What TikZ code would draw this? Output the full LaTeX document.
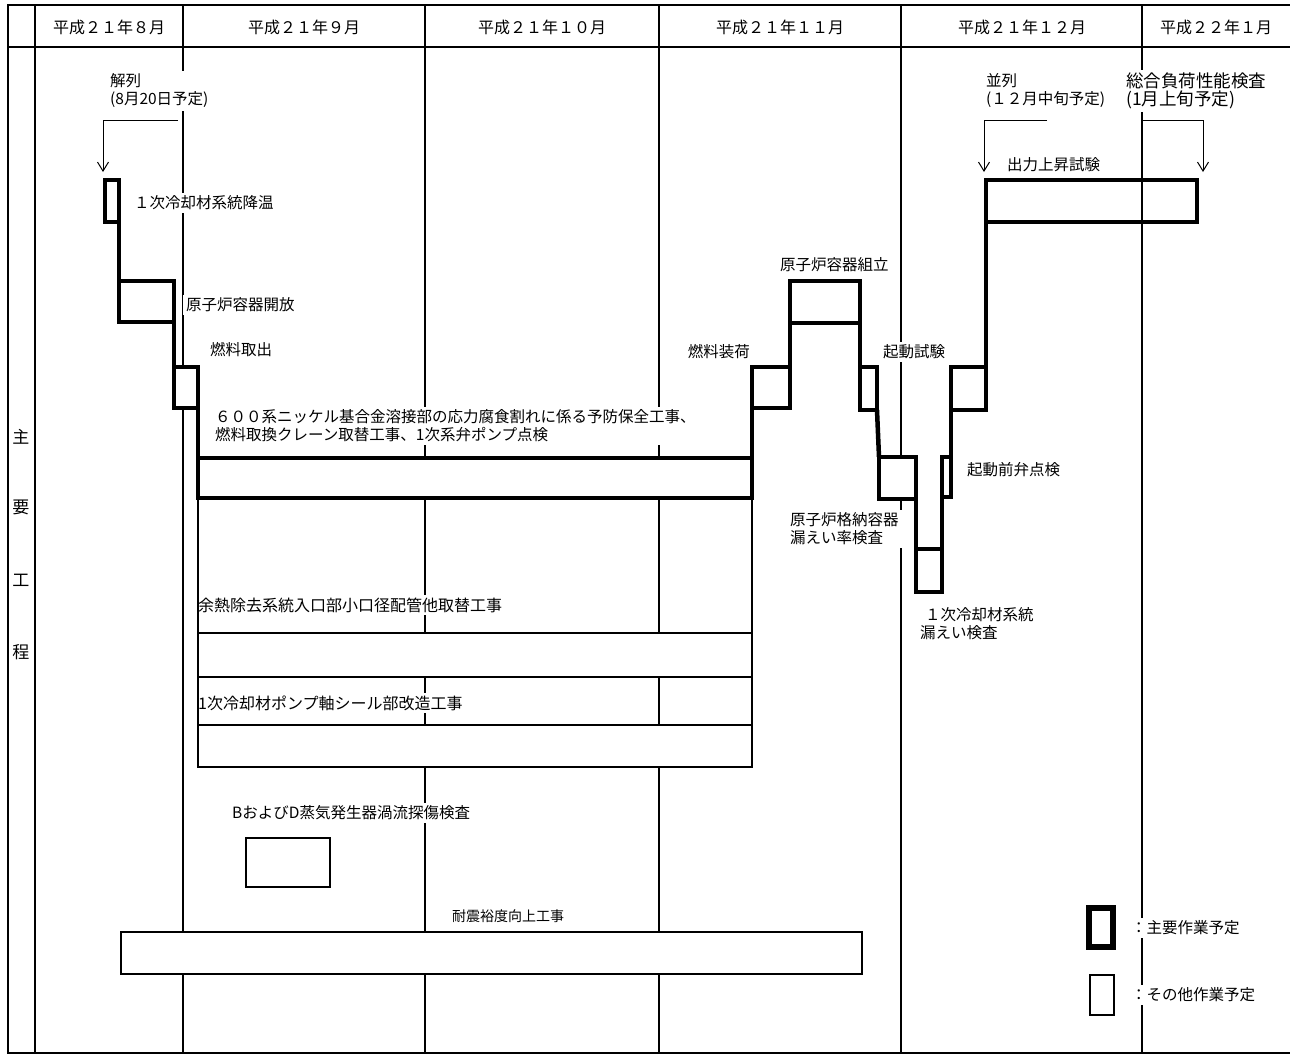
\documentclass[tikz,border=0pt]{standalone}
\usepackage{fontspec}
\setmainfont{Noto Sans CJK JP}
\usetikzlibrary{arrows.meta}
\newcommand\mybox[6]{\node[#1, minimum width={((#5)-(#3))*1pt}, minimum height={((#6)-(#4))*1pt}] (#2) at ({((#3)+(#5))/2},{((#4)+(#6))/2}) {};}
\begin{document}
\begin{tikzpicture}[x=1pt,y=-1pt,
  every node/.style={font=\fontsize{15.5}{18}\selectfont},
  lab/.style={fill=white, inner sep=3pt, align=left},
  hdr/.style={font=\fontsize{16}{18}\selectfont, inner sep=2pt},
  side/.style={font=\fontsize{17}{18}\selectfont, inner sep=2pt},
  mainbox/.style={draw, line width=4.5pt, fill=white, outer sep=0pt, inner sep=0pt, line join=miter},
  othbox/.style={draw, line width=1.3pt, fill=white, outer sep=0pt, inner sep=0pt},
  gridline/.style={line width=1.8pt},
  mainlink/.style={line width=4.5pt, line cap=rect},
  othlink/.style={line width=1.3pt},
  arr/.style={line width=1pt, -{Straight Barb[length=9pt,width=11pt]}}
]
\useasboundingbox (0,0) rectangle (1290,1057);
% frame and grid
\draw[gridline] (1290,5) -- (8,5) -- (8,1053) -- (1290,1053);
\draw[gridline] (8,47) -- (1290,47);
\foreach \xx in {35,183,425,659,901,1142} \draw[gridline] (\xx,5) -- (\xx,1053);
% header
\node[hdr] (h8) at (109,27) {平成２１年８月};
\node[hdr] (h9) at (304,27) {平成２１年９月};
\node[hdr] (h10) at (542,27) {平成２１年１０月};
\node[hdr] (h11) at (780,27) {平成２１年１１月};
\node[hdr] (h12) at (1022,27) {平成２１年１２月};
\node[hdr] (h1) at (1216,27) {平成２２年１月};
% side label
\node[side] (s1) at (21,437) {主};
\node[side] (s2) at (21,507) {要};
\node[side] (s3) at (21,580) {工};
\node[side] (s4) at (21,652) {程};
% labels
\node[lab, anchor=west] (lkai) at (107,91) {解列\\(8月20日予定)};
\node[lab, anchor=west] (lhei) at (983,91) {並列\\(１２月中旬予定)};
\node[lab, anchor=west, font=\fontsize{17.5}{18}\selectfont] (lsogo) at (1123,91) {総合負荷性能検査\\(1月上旬予定)};
\node[lab, anchor=west] (lkoon) at (131,203) {１次冷却材系統降温};
\node[lab, anchor=west] (lkaiho) at (183,305) {原子炉容器開放};
\node[lab, anchor=west] (ltori) at (207,350) {燃料取出};
\node[lab, anchor=west] (l600) at (212,426) {６００系ニッケル基合金溶接部の応力腐食割れに係る予防保全工事、\\燃料取換クレーン取替工事、1次系弁ポンプ点検};
\node[lab, anchor=east] (lsoka) at (753,352) {燃料装荷};
\node[lab, anchor=west] (lkumi) at (777,265) {原子炉容器組立};
\node[lab, anchor=west] (lkido) at (880,352) {起動試験};
\node[lab, anchor=west] (lben) at (964,470) {起動前弁点検};
\node[lab, anchor=west] (lkaku) at (787,529) {原子炉格納容器\\漏えい率検査};
\node[lab, anchor=west] (lmore) at (917,624) {\hspace*{5pt}１次冷却材系統\\漏えい検査};
\node[lab, anchor=west] (lshu) at (1004,165) {出力上昇試験};
\node[lab, anchor=west, font=\fontsize{16}{18}\selectfont] (lyo) at (195,605) {余熱除去系統入口部小口径配管他取替工事};
\node[lab, anchor=west, font=\fontsize{16}{18}\selectfont] (lpump) at (195,703) {1次冷却材ポンプ軸シール部改造工事};
\node[lab, anchor=west] (lbd) at (229,813) {BおよびD蒸気発生器渦流探傷検査};
\node[lab, font=\fontsize{14}{18}\selectfont] (ltai) at (508,916) {耐震裕度向上工事};
\node[lab, anchor=west] (leg1) at (1128,928) {：主要作業予定};
\node[lab, anchor=west] (leg2) at (1128,995) {：その他作業予定};
% main work boxes
\mybox{mainbox}{b1}{105}{180}{119}{222}
\mybox{mainbox}{b2}{119}{281}{174}{322}
\mybox{mainbox}{b3}{174}{367}{198}{408}
\mybox{mainbox}{b4}{198}{458}{752}{498}
\mybox{mainbox}{b5}{752}{367}{790}{408}
\mybox{mainbox}{b6}{790}{281}{860}{323}
\mybox{mainbox}{b7}{860}{367}{877}{410}
\mybox{mainbox}{b8}{879}{457}{916}{499}
\mybox{mainbox}{b9}{916}{549}{942}{592}
\mybox{mainbox}{b10}{942}{457}{951}{497}
\mybox{mainbox}{b11}{951}{367}{986}{410}
\mybox{mainbox,fill=none}{b12}{986}{180}{1197}{222}
% other work boxes
\mybox{othbox}{o1}{198}{633}{752}{677}
\mybox{othbox}{o2}{198}{725}{752}{767}
\mybox{othbox}{o3}{246}{838}{330}{887}
\mybox{othbox}{o4}{121}{932}{862}{974}
% legend
\mybox{mainbox,line width=6pt}{k1}{1089}{908}{1113}{947}
\mybox{othbox}{k2}{1090}{975}{1114}{1015}
% main connectors
\draw[mainlink] (b1.north east) -- (b2.south west);
\draw[mainlink] (b2.north east) -- (b3.south west);
\draw[mainlink] (b3.north east) -- (b4.south west);
\draw[mainlink] (b4.south east) -- (b5.north west);
\draw[mainlink] (b5.south east) -- (b6.north west);
\draw[mainlink] (b6.north east) -- (b7.south west);
\draw[mainlink, line cap=butt] (b7.south east) -- (b8.north west);
\draw[mainlink] (b8.north east) -- (b9.south west);
\draw[mainlink] (b9.south east) -- (b10.south west);
\draw[mainlink] (b10.north east) -- (b11.south west);
\draw[mainlink] (b11.south east) -- (b12.north west);
% other connectors
\draw[othlink] (b4.south west) -- (o1.north west);
\draw[othlink] (o1.south west) -- (o2.north west);
\draw[othlink] (b4.south east) -- (o1.north east);
\draw[othlink] (o1.south east) -- (o2.north east);
% milestone arrows
\coordinate (a1s) at (178,120); \coordinate (a1e) at (103,172);
\coordinate (a2s) at (1047,120); \coordinate (a2e) at (984,172);
\coordinate (a3s) at (1142,120); \coordinate (a3e) at (1203,172);
\draw[arr] (a1s) -| (a1e);
\draw[arr] (a2s) -| (a2e);
\draw[arr] (a3s) -| (a3e);
\end{tikzpicture}
\end{document}
